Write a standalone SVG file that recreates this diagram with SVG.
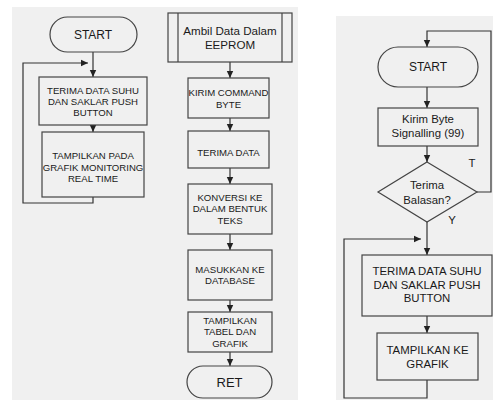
<svg xmlns="http://www.w3.org/2000/svg" width="493" height="400" viewBox="0 0 493 400">
<defs>
<style>
.bg{fill:#f0f0f0}
.n{fill:none;stroke:#444;stroke-width:1.2}
.c{fill:none;stroke:#333;stroke-width:1.2}
text{font-family:"Liberation Sans",Arial,sans-serif;fill:#1a1a1a;text-anchor:middle}
.s{font-size:9.6px}
.m{font-size:11.4px}
.l{font-size:12px}
</style>
<marker id="ah" markerUnits="userSpaceOnUse" markerWidth="8" markerHeight="8" refX="7" refY="4" orient="auto">
<path d="M0,0.8 L7,4 L0,7.2 Z" fill="#222"/>
</marker>
</defs>
<rect class="bg" x="12" y="7" width="286" height="393"/>
<rect class="bg" x="336" y="16" width="157" height="384"/>

<g id="connectors">
<path class="c" d="M93,52 V77" marker-end="url(#ah)"/>
<path class="c" d="M93,125 V132" marker-end="url(#ah)"/>
<path class="c" d="M93,197 V203 H23 V63 H88" marker-end="url(#ah)"/>
<path class="c" d="M230,62 V78" marker-end="url(#ah)"/>
<path class="c" d="M230,118 V131" marker-end="url(#ah)"/>
<path class="c" d="M230,168 V184" marker-end="url(#ah)"/>
<path class="c" d="M230,234 V250" marker-end="url(#ah)"/>
<path class="c" d="M230,300 V312" marker-end="url(#ah)"/>
<path class="c" d="M230,352 V366" marker-end="url(#ah)"/>
<path class="c" d="M477,192 H491 V31 H427 V47" marker-end="url(#ah)"/>
<path class="c" d="M427,87 V108" marker-end="url(#ah)"/>
<path class="c" d="M427,146 V162" marker-end="url(#ah)"/>
<path class="c" d="M427,222 V255" marker-end="url(#ah)"/>
<path class="c" d="M427,316 V333" marker-end="url(#ah)"/>
<path class="c" d="M427,380 V398 H344 V239 H421" marker-end="url(#ah)"/>
<text class="m" x="472" y="167">T</text>
<text class="m" x="452" y="224">Y</text>
</g>

<g id="start1">
<rect class="n" x="50" y="17" width="87" height="35" rx="17.5"/>
<text class="l" x="93" y="38.5">START</text>
</g>
<g id="terima1">
<rect class="n" x="39" y="77" width="108" height="48"/>
<text class="s" x="93" y="93.5">TERIMA DATA SUHU</text>
<text class="s" x="93" y="104.5">DAN SAKLAR PUSH</text>
<text class="s" x="93" y="115.5">BUTTON</text>
</g>
<g id="tampil1">
<rect class="n" x="42" y="132" width="102" height="65"/>
<text class="s" x="93" y="159">TAMPILKAN PADA</text>
<text class="s" x="93" y="170.5">GRAFIK MONITORING</text>
<text class="s" x="93" y="182">REAL TIME</text>
</g>

<g id="ambil">
<rect class="n" x="168" y="13" width="124" height="49"/>
<line class="n" x1="178" y1="13" x2="178" y2="62"/>
<line class="n" x1="282" y1="13" x2="282" y2="62"/>
<text x="230" y="35" style="font-size:11.6px">Ambil Data Dalam</text>
<text x="230" y="48.5" style="font-size:11.6px">EEPROM</text>
</g>
<g id="kirim">
<rect class="n" x="188" y="78" width="81" height="40"/>
<text class="s" x="228.5" y="95.5">KIRIM COMMAND</text>
<text class="s" x="228.5" y="107.5">BYTE</text>
</g>
<g id="terimadata">
<rect class="n" x="188" y="131" width="81" height="37"/>
<text class="s" x="228.5" y="155.5">TERIMA DATA</text>
</g>
<g id="konversi">
<rect class="n" x="188" y="184" width="84" height="50"/>
<text class="s" x="230" y="200.5">KONVERSI KE</text>
<text class="s" x="230" y="212">DALAM BENTUK</text>
<text class="s" x="230" y="223.5">TEKS</text>
</g>
<g id="masukkan">
<rect class="n" x="188" y="250" width="84" height="50"/>
<text class="s" x="230" y="272.5">MASUKKAN KE</text>
<text class="s" x="230" y="284">DATABASE</text>
</g>
<g id="tampiltabel">
<rect class="n" x="188" y="312" width="84" height="40"/>
<text class="s" x="230" y="323.5">TAMPILKAN</text>
<text class="s" x="230" y="335">TABEL DAN</text>
<text class="s" x="230" y="346.5">GRAFIK</text>
</g>
<g id="ret">
<rect class="n" x="187" y="366" width="85" height="32" rx="16"/>
<text x="229.5" y="386.5" style="font-size:13px">RET</text>
</g>

<g id="start2">
<rect class="n" x="378" y="47" width="100" height="40" rx="20"/>
<text class="l" x="428" y="70.5">START</text>
</g>
<g id="kirimbyte">
<rect class="n" x="378" y="108" width="100" height="38"/>
<text class="m" x="428" y="123">Kirim Byte</text>
<text class="m" x="428" y="137">Signalling (99)</text>
</g>
<g id="balasan">
<path class="n" d="M427,162 L477,192 L427,222 L378,192 Z"/>
<text class="m" x="427" y="189">Terima</text>
<text class="m" x="427" y="204">Balasan?</text>
</g>
<g id="terima2">
<rect class="n" x="362" y="255" width="130" height="61"/>
<text class="m" x="427" y="275">TERIMA DATA SUHU</text>
<text class="m" x="427" y="288.5">DAN SAKLAR PUSH</text>
<text class="m" x="427" y="302">BUTTON</text>
</g>
<g id="tampil2">
<rect class="n" x="377" y="333" width="101" height="47"/>
<text class="m" x="427.5" y="354">TAMPILKAN KE</text>
<text class="m" x="427.5" y="367.5">GRAFIK</text>
</g>
</svg>
